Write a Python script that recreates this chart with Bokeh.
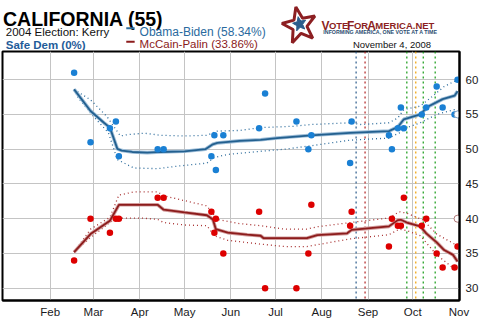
import math
import pandas as pd
from bokeh.plotting import figure
from bokeh.layouts import column
from bokeh.models import Range1d, Span, FixedTicker
from bokeh.core.properties import value
from bokeh.embed import file_html
from bokeh.resources import INLINE

# ---------------- data ----------------
poll_dates = ["2008-02-17", "2008-02-28", "2008-03-12", "2008-03-16", "2008-03-18",
              "2008-04-13", "2008-04-17", "2008-05-19", "2008-05-21", "2008-05-22",
              "2008-05-27", "2008-06-20", "2008-06-24", "2008-07-15", "2008-07-23",
              "2008-07-25", "2008-08-20", "2008-08-21", "2008-09-15", "2008-09-17",
              "2008-09-21", "2008-09-23", "2008-09-25", "2008-10-07", "2008-10-10",
              "2008-10-17", "2008-10-21", "2008-10-29", "2008-10-31"]
obama_polls = [61, 51, 53, 54, 49, 50, 50, 49, 52, 47, 52, 53, 58, 54, 50,
               52, 48, 54, 52, 50, 53, 56, 53, 55, 56, 59, 56, 55, 60]
mccain_polls = [34, 40, 38, 40, 40, 43, 43, 41, 38, 40, 35, 41, 30, 30, 35,
                42, 39, 41, 36, 40, 39, 39, 43, 39, 40, 35, 33, 33, 36]

latest_dates = ["2008-10-31"]
latest_obama = [55]
latest_mccain = [40]

obama_trend_dates = ["2008-02-17", "2008-02-28", "2008-03-08", "2008-03-12", "2008-03-17",
                     "2008-03-20", "2008-03-27", "2008-04-06", "2008-04-15", "2008-05-01",
                     "2008-05-15", "2008-05-20", "2008-05-23", "2008-06-07", "2008-06-21",
                     "2008-07-02", "2008-07-25", "2008-08-20", "2008-09-15", "2008-09-21",
                     "2008-09-25", "2008-10-06", "2008-10-11", "2008-10-21", "2008-10-29",
                     "2008-10-31"]
obama_trend = [58.6, 55.5, 53.8, 53.1, 50.05, 49.8, 49.6, 49.5, 49.6, 49.7,
               50.0, 50.7, 50.9, 51.2, 51.35, 51.6, 52.0, 52.35, 52.6, 53.2,
               54.3, 55.0, 56.1, 57.2, 57.7, 58.34]

obama_hi_dates = ["2008-02-17", "2008-02-28", "2008-03-10", "2008-03-19", "2008-03-24",
                  "2008-04-04", "2008-04-15", "2008-05-01", "2008-05-16", "2008-05-23",
                  "2008-06-07", "2008-06-21", "2008-07-13", "2008-07-25", "2008-08-20",
                  "2008-08-27", "2008-09-15", "2008-09-21", "2008-09-25", "2008-10-06",
                  "2008-10-13", "2008-10-22", "2008-10-31"]
obama_hi = [58.6, 57.1, 54.7, 51.9, 52.1, 52.3, 52.0, 51.9, 52.0, 52.6,
            52.7, 53.1, 53.3, 53.55, 53.8, 53.55, 53.8, 54.5, 55.7, 56.2,
            57.4, 59.0, 60.0]

obama_lo_dates = ["2008-02-17", "2008-02-19", "2008-02-28", "2008-03-11", "2008-03-17",
                  "2008-03-28", "2008-04-13", "2008-04-28", "2008-05-16", "2008-05-21",
                  "2008-05-30", "2008-06-21", "2008-07-07", "2008-07-25", "2008-08-20",
                  "2008-09-15", "2008-09-22", "2008-09-27", "2008-10-06", "2008-10-17",
                  "2008-10-29", "2008-10-31"]
obama_lo = [58.6, 57.6, 55.2, 52.35, 48.5, 47.3, 47.2, 47.6, 48.0, 48.8,
            49.25, 49.7, 50.0, 50.5, 51.3, 51.6, 52.35, 53.1, 53.8, 55.0,
            55.7, 55.5]

mccain_trend_dates = ["2008-02-17", "2008-02-28", "2008-03-12", "2008-03-18", "2008-04-13",
                      "2008-04-17", "2008-05-01", "2008-05-16", "2008-05-20", "2008-05-22",
                      "2008-05-30", "2008-06-12", "2008-06-21", "2008-06-23", "2008-07-22",
                      "2008-07-29", "2008-08-18", "2008-08-21", "2008-09-15", "2008-09-21",
                      "2008-09-23", "2008-09-27", "2008-10-06", "2008-10-10", "2008-10-17",
                      "2008-10-22", "2008-10-28", "2008-10-31"]
mccain_trend = [35.2, 37.8, 39.7, 42.0, 42.0, 41.3, 40.9, 40.5, 39.9, 38.5,
                38.0, 37.7, 37.55, 37.2, 37.2, 37.65, 37.9, 38.4, 38.9, 39.8,
                39.85, 39.45, 38.9, 37.9, 36.6, 35.5, 34.8, 33.86]

mccain_hi_dates = ["2008-02-17", "2008-02-28", "2008-03-12", "2008-03-18", "2008-03-28",
                   "2008-04-13", "2008-04-17", "2008-05-01", "2008-05-16", "2008-05-23",
                   "2008-06-07", "2008-06-21", "2008-07-07", "2008-07-22", "2008-07-29",
                   "2008-08-20", "2008-09-15", "2008-09-22", "2008-09-27", "2008-10-08",
                   "2008-10-17", "2008-10-31"]
mccain_hi = [35.2, 38.5, 40.2, 43.4, 43.85, 43.85, 43.3, 42.6, 41.85, 39.9,
             39.3, 39.0, 38.5, 38.5, 38.85, 39.45, 40.1, 41.0, 40.8, 39.8,
             37.8, 36.1]

mccain_lo_dates = ["2008-02-17", "2008-02-28", "2008-03-16", "2008-04-02", "2008-04-13",
                   "2008-04-17", "2008-05-01", "2008-05-16", "2008-05-21", "2008-05-30",
                   "2008-06-21", "2008-07-07", "2008-07-22", "2008-08-20", "2008-09-15",
                   "2008-09-22", "2008-09-27", "2008-10-06", "2008-10-17", "2008-10-30"]
mccain_lo = [35.2, 37.3, 40.1, 40.1, 39.9, 39.45, 39.1, 39.0, 37.55, 36.9,
             36.35, 36.0, 36.0, 37.1, 37.7, 38.5, 38.3, 37.55, 34.8, 32.6]

event_dates = ["2008-08-24", "2008-08-30", "2008-09-27", "2008-10-03", "2008-10-08", "2008-10-16"]

month_starts = ["2008-02-01", "2008-03-01", "2008-04-01", "2008-05-01", "2008-06-01",
                "2008-07-01", "2008-08-01", "2008-09-01", "2008-10-01", "2008-11-01"]
month_labels = ["Feb", "Mar", "Apr", "May", "Jun", "Jul", "Aug", "Sep", "Oct", "Nov"]
y_ticks = [30, 35, 40, 45, 50, 55, 60]

# ---------------- styles ----------------
event_colors = ["#2a5a8a", "#b02020", "#139a13", "#f0a000", "#139a13", "#139a13"]
OB_DOT, OB_LINE, OB_HALO, OB_BAND = "#1a80d4", "#23608f", "#9dbdd8", "#2d6c9c"
MC_DOT, MC_LINE, MC_HALO, MC_BAND = "#dd0000", "#8c1c1c", "#d29c9c", "#a83030"
FONT = "Liberation Sans"

BASE = pd.Timestamp("2008-01-01")


def days(ds):
    return [(pd.Timestamp(d) - BASE).days for d in ds]


W = 490
HEAD_H = 50

# ---------------- header (title, legend, logo) ----------------
hd = figure(width=W, height=HEAD_H, x_range=Range1d(0, W), y_range=Range1d(HEAD_H, 0),
            x_axis_location=None, y_axis_location=None, title_location=None,
            output_backend="svg", toolbar_location=None,
            min_border_left=0, min_border_right=0, min_border_top=0, min_border_bottom=0)
hd.grid.visible = False
hd.outline_line_color = None
hd.background_fill_color = "white"
hd.border_fill_color = "white"


def lab(text, px, base_py, size, color, bold=False, align="left"):
    hd.text(x=[px], y=[base_py], text=[text], text_font=value(FONT), text_font_size=value(size),
            text_color=color, text_font_style="bold" if bold else "normal",
            text_align=align, text_baseline="alphabetic")


def star(cx, cy, R, r, rot):
    xs, ys = [], []
    for i in range(10):
        ang = math.radians(rot - 90 + 36 * i)
        rr = R if i % 2 == 0 else r
        xs.append(cx + rr * math.cos(ang))
        ys.append(cy + rr * math.sin(ang))
    return xs, ys


lab("CALIFORNIA (55)", 0.5, 18, "19.5px", "black", bold=True)
lab("2004 Election: Kerry", 3.5, 31, "11.5px", "#111111")
lab("Safe Dem (0%)", 3.5, 44, "11.5px", "#1f5c99", bold=True)
hd.quad(left=[132.7], right=[141.7], top=[26.8], bottom=[28.8], fill_color=OB_BAND, line_color=None)
hd.quad(left=[132.7], right=[141.7], top=[40.3], bottom=[42.3], fill_color=MC_LINE, line_color=None)
lab("Obama-Biden (58.34%)", 147, 31, "12px", "#2a6a9e")
lab("McCain-Palin (33.86%)", 147, 43.5, "11.5px", "#8b1a1a")
lab("November 4, 2008", 459.5, 44, "9.5px", "#111111", align="right")

sx, sy = star(318.5, 25, 19, 8, -12)
hd.patch(sx, sy, fill_color=None, fill_alpha=0, line_color="#8c1f22", line_width=3)
sx, sy = star(318.5, 23.5, 7.5, 3.3, -12)
hd.patch(sx, sy, fill_color="#2b5d8c", line_color="#2b5d8c", line_width=1)

LOGO = "#8c1f22"
x0 = 342
for seg, big, w in [("V", True, 8.0), ("OTE", False, 19.5), ("F", True, 7.3),
                    ("OR", False, 14.2), ("A", True, 8.7), ("MERICA.NET", False, 59)]:
    lab(seg, x0, 25, "12px" if big else "9.5px", LOGO, bold=True)
    x0 += w
lab("INFORMING AMERICA, ONE VOTE AT A TIME", 344, 31.5, "5.3px", "#2b4d70", bold=True)

# ---------------- main chart ----------------
p = figure(width=W, height=330 - HEAD_H, x_range=Range1d(-1, 305.3), y_range=Range1d(28.24, 64.05),
           y_axis_location="right", output_backend="svg", toolbar_location=None,
           title_location=None,
           min_border_left=2, min_border_right=31, min_border_top=1, min_border_bottom=30)
p.background_fill_color = "white"
p.border_fill_color = None
p.border_fill_alpha = 0
p.outline_line_color = "black"
p.outline_line_width = 2

mt = days(month_starts)
p.xaxis.ticker = FixedTicker(ticks=mt)
p.xaxis.major_label_overrides = {d: l for d, l in zip(mt, month_labels)}
p.yaxis.ticker = FixedTicker(ticks=y_ticks)
for ax in (p.xaxis, p.yaxis):
    ax.axis_line_color = "black"
    ax.axis_line_width = 2
    ax.major_tick_line_color = None
    ax.minor_tick_line_color = None
    ax.major_tick_out = 0
    ax.major_tick_in = 0
    ax.major_label_text_font = FONT
    ax.major_label_text_font_size = "11.5px"
    ax.major_label_text_color = "#1a1a22"
p.xaxis.major_label_standoff = 5
p.yaxis.major_label_standoff = 6
p.xgrid.grid_line_color = "#c4c4c4"
p.ygrid.grid_line_color = "#c4c4c4"

for d, c in zip(days(event_dates), event_colors):
    p.add_layout(Span(location=d, dimension="height", line_color=c, line_width=1.2,
                      line_dash="2 3", level="underlay"))

# bands
p.line(days(obama_hi_dates), obama_hi, line_color=OB_BAND, line_width=1.3, line_dash="1 3")
p.line(days(obama_lo_dates), obama_lo, line_color=OB_BAND, line_width=1.3, line_dash="1 3")
p.line(days(mccain_hi_dates), mccain_hi, line_color=MC_BAND, line_width=1.3, line_dash="1 3")
p.line(days(mccain_lo_dates), mccain_lo, line_color=MC_BAND, line_width=1.3, line_dash="1 3")

# trends
p.line(days(obama_trend_dates), obama_trend, line_color=OB_HALO, line_width=3.6)
p.line(days(obama_trend_dates), obama_trend, line_color=OB_LINE, line_width=1.8)
p.line(days(mccain_trend_dates), mccain_trend, line_color=MC_HALO, line_width=3.6)
p.line(days(mccain_trend_dates), mccain_trend, line_color=MC_LINE, line_width=1.8)

# polls
p.scatter(days(poll_dates), obama_polls, size=6.5, fill_color=OB_DOT, line_color=None)
p.scatter(days(poll_dates), mccain_polls, size=6.5, fill_color=MC_DOT, line_color=None)
p.scatter(days(latest_dates), latest_obama, size=7, fill_color="white", line_color="#7f9fbf", line_width=1)
p.scatter(days(latest_dates), latest_mccain, size=7, fill_color="white", line_color="#b07878", line_width=1)

layout = column(hd, p, spacing=0)
open("out.html", "w").write(file_html(layout, INLINE))
